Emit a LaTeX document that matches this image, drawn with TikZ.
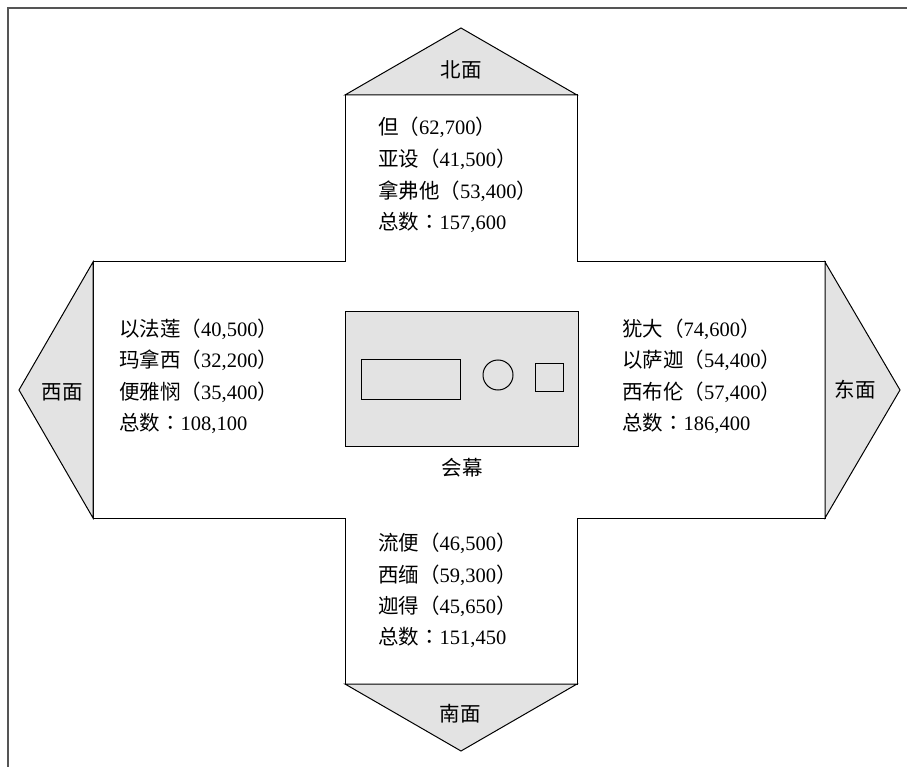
\documentclass[tikz,border=0pt]{standalone}
\usepackage{fontspec}
\setmainfont{Liberation Serif}
\newfontfamily\cjk{Noto Sans CJK SC}
\newfontfamily\cjktc{Noto Sans CJK TC}
\newcommand\zh[1]{{\cjk #1}}
\newcommand\colonzh{{\cjktc ：}}
\definecolor{tri}{RGB}{227,227,227}
\definecolor{framec}{RGB}{85,85,85}
\begin{document}
\begin{tikzpicture}[x=1pt,y=-1pt,line join=miter,
  outline/.style={draw=black,line width=1pt},
  face/.style={outline,fill=tri},
  lbl/.style={font=\fontsize{20.5}{20.5}\selectfont,inner sep=0pt},
  entry/.style={lbl,anchor=west}]
\useasboundingbox (0,0) rectangle (907,767);
% frame
\draw[line width=2pt,draw=framec] (8,767) -- (8,8) -- (907,8);
% cross
\draw[outline,fill=white] (345,95) -- (577,95) -- (577,262) -- (825,262) -- (825,518) -- (577,518) -- (577,684) -- (345,684) -- (345,518) -- (93,518) -- (93,262) -- (345,262) -- cycle;
% direction triangles
\draw[face] (345,95) -- (461,28) -- (577,95) -- cycle;
\draw[face] (345,684) -- (461,751) -- (577,684) -- cycle;
\draw[face] (93,262) -- (19,390) -- (93,518) -- cycle;
\draw[face] (825,262) -- (900,390) -- (825,518) -- cycle;
\node[lbl] (north) at (461,70) {\zh{北面}};
\node[lbl] (south) at (460,714) {\zh{南面}};
\node[lbl] (west) at (62,392) {\zh{西面}};
\node[lbl] (east) at (855,390) {\zh{东面}};
% tabernacle
\draw[face] (345,311) rectangle (578,446);
\draw[outline] (361,359) rectangle (460,399);
\draw[outline] (498,375) circle (15);
\draw[outline] (535,363) rectangle (563,391);
\node[lbl] (tent) at (462,468) {\zh{会幕}};
% north camp
\node[entry] (n1) at (378,127) {\zh{但（}62,700\zh{）}};
\node[entry] (n2) at (378,159) {\zh{亚设（}41,500\zh{）}};
\node[entry] (n3) at (378,191) {\zh{拿弗他（}53,400\zh{）}};
\node[entry] (n4) at (378,222) {\zh{总数}\colonzh 157,600};
% west camp
\node[entry] (w1) at (119,329) {\zh{以法莲（}40,500\zh{）}};
\node[entry] (w2) at (119,360) {\zh{玛拿西（}32,200\zh{）}};
\node[entry] (w3) at (119,392) {\zh{便雅悯（}35,400\zh{）}};
\node[entry] (w4) at (119,423) {\zh{总数}\colonzh 108,100};
% east camp
\node[entry] (e1) at (622,329) {\zh{犹大（}74,600\zh{）}};
\node[entry] (e2) at (622,360) {\zh{以萨迦（}54,400\zh{）}};
\node[entry] (e3) at (622,392) {\zh{西布伦（}57,400\zh{）}};
\node[entry] (e4) at (622,423) {\zh{总数}\colonzh 186,400};
% south camp
\node[entry] (s1) at (378,543) {\zh{流便（}46,500\zh{）}};
\node[entry] (s2) at (378,575) {\zh{西缅（}59,300\zh{）}};
\node[entry] (s3) at (378,606) {\zh{迦得（}45,650\zh{）}};
\node[entry] (s4) at (378,637) {\zh{总数}\colonzh 151,450};
\end{tikzpicture}
\end{document}
